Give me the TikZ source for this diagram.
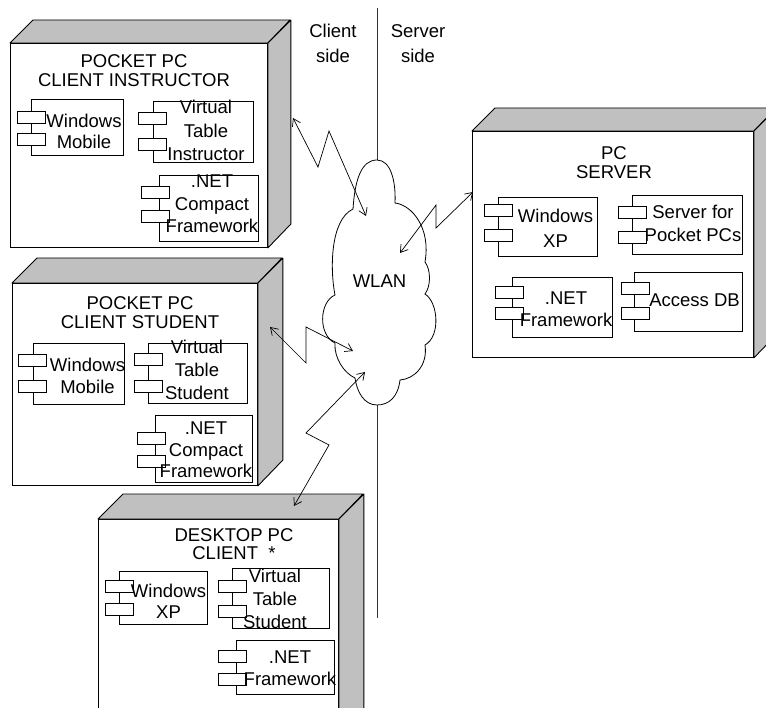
\documentclass[tikz,border=0pt]{standalone}
\usepackage{fontspec}
\setmainfont{Liberation Sans}
\usetikzlibrary{arrows.meta}
\definecolor{boxgray}{RGB}{192,192,192}
\newcommand\ml[2]{\fontsize{18.5}{#1}\selectfont\begin{tabular}[t]{@{}c@{}}#2\end{tabular}}
\tikzset{
  front/.style={draw=black, line width=0.9pt, fill=white, rectangle, inner sep=0pt, anchor=north west},
  face/.style={draw=black, line width=0.9pt, fill=boxgray, line join=round},
  comp/.style={draw=black, line width=0.7pt, fill=white, rectangle, inner sep=0pt, anchor=north west},
  tab/.style={draw=black, line width=0.7pt, fill=white, rectangle, inner sep=0pt, minimum width=28pt, minimum height=12pt, anchor=north},
  lbl/.style={anchor=base, inner sep=0pt},
  link/.style={line width=0.7pt, {Straight Barb[length=7pt,width=9pt]}-{Straight Barb[length=7pt,width=9pt]}, line join=miter},
  sideline/.style={line width=0.7pt, draw=black!80},
  cloudline/.style={line width=0.8pt, draw=black, fill=white},
}
% name, x1, y1, x2, y2, depth
\newcommand\deviceBox[6]{%
  \node[front, minimum width={#4-#2}, minimum height={#5-#3}] (#1) at (#2,#3) {};
  \draw[face] (#1.north west) -- ++(#6,-#6) -- ++({#4-#2},0) -- (#1.north east) -- cycle;
  \draw[face] (#1.north east) -- ++(#6,-#6) -- ++(0,{#5-#3}) -- (#1.south east) -- cycle;
}
% name, x1, y1, x2, y2, tab centre x, tab1 top, tab2 top
\newcommand\component[8]{%
  \node[comp, minimum width={#4-#2}, minimum height={#5-#3}] (#1) at (#2,#3) {};
  \node[tab] (#1-t1) at (#6,#7) {};
  \node[tab] (#1-t2) at (#6,#8) {};
}
\begin{document}
\begin{tikzpicture}[x=1pt,y=-1pt]
\clip (0,0) rectangle (766,708);
\fill[white] (0,0) rectangle (766,708);

% devices
\deviceBox{instr}{10}{43}{267}{247}{23}
\deviceBox{stud}{12}{283}{257}{485}{25}
\deviceBox{desk}{98}{519}{338}{740}{25}
\deviceBox{serv}{472}{131}{753}{357}{23}

% titles
\node[lbl] (instr-title) at (134,68) {\ml{19}{POCKET PC\\CLIENT INSTRUCTOR}};
\node[lbl] (stud-title) at (140,310) {\ml{19}{POCKET PC\\CLIENT STUDENT}};
\node[lbl] (desk-title) at (234,541) {\ml{18}{DESKTOP PC\\CLIENT~~*\hspace{14pt}}};
\node[lbl] (serv-title) at (614,160) {\ml{18}{PC\\SERVER}};

% components: instructor
\component{iwm}{31}{99}{123}{155}{31}{111}{133}
\component{ivt}{153}{101}{253}{162}{152.5}{112}{138}
\component{inet}{159}{175}{258}{241}{155.5}{186}{210}
\node[lbl] (iwm-l) at (84,128) {\ml{21}{Windows\\Mobile}};
\node[lbl] (ivt-l) at (206,114) {\ml{23.5}{Virtual\\Table\\Instructor}};
\node[lbl] (inet-l) at (212,188) {\ml{22.5}{.NET\\Compact\\Framework}};

% components: student
\component{swm}{33}{343}{124}{404}{32.5}{354}{380}
\component{svt}{148}{343}{247}{403}{148.5}{353}{380}
\component{snet}{155}{415}{252}{482}{151}{432}{455}
\node[lbl] (swm-l) at (87.5,372) {\ml{22}{Windows\\Mobile}};
\node[lbl] (svt-l) at (197,354) {\ml{23}{Virtual\\Table\\Student}};
\node[lbl] (snet-l) at (206,435) {\ml{21.5}{.NET\\Compact\\Framework}};

% components: desktop
\component{dxp}{119}{571}{207}{624}{119}{580}{603}
\component{dvt}{232}{568}{329}{628}{232}{580}{605}
\component{dnet}{236}{640}{334}{694}{232.5}{650}{673}
\node[lbl] (dxp-l) at (168.5,597) {\ml{21}{Windows\\XP}};
\node[lbl] (dvt-l) at (275,582) {\ml{23}{Virtual\\Table\\Student}};
\node[lbl] (dnet-l) at (290,663) {\ml{22}{.NET\\Framework}};

% components: server
\component{vxp}{498}{197}{597}{256}{498.5}{204}{229}
\component{vsrv}{632}{195}{742}{254}{632}{206}{231}
\component{vnet}{512}{277}{612}{337}{509}{286}{307}
\component{vdb}{634}{272}{742}{331}{635}{282}{307}
\node[lbl] (vxp-l) at (555.5,223) {\ml{25}{Windows\\XP}};
\node[lbl] (vsrv-l) at (693,219) {\ml{23}{Server for\\Pocket PCs}};
\node[lbl] (vnet-l) at (566,305) {\ml{22}{.NET\\Framework}};
\node[lbl] (vdb-l) at (694.5,307) {\ml{22}{Access DB}};

% client / server side
\node[lbl] (client) at (333,38) {\ml{25}{Client\\side}};
\node[lbl] (server) at (418,38) {\ml{25}{Server\\side}};
\coordinate (vtop) at (377,8);
\coordinate (cloudtop) at (377,160);
\coordinate (cloudbot) at (377,405);
\coordinate (vbot) at (377,618);
\draw[sideline] (vtop) -- (cloudtop);
\draw[sideline] (cloudbot) -- (vbot);

% cloud
\draw[cloudline] (353,209) .. controls (355,178) and (362,160) .. (377,160)
  .. controls (391,160) and (396,182) .. (395,203)
  .. controls (412,205) and (431,228) .. (425,262)
  .. controls (431,270) and (431,286) .. (425,294)
  .. controls (438,302) and (441,336) .. (425,345)
  .. controls (428,366) and (414,379) .. (400,380)
  .. controls (398,397) and (389,405) .. (377,405)
  .. controls (364,405) and (357,392) .. (355,378)
  .. controls (344,373) and (334,358) .. (335,343)
  .. controls (318,335) and (319,302) .. (335,295)
  .. controls (330,270) and (330,220) .. (353,209) -- cycle;
\node[lbl] (wlan) at (379.5,288) {\fontsize{18.5}{22}\selectfont WLAN};

% wireless links
\coordinate (k1a) at (293,118); \coordinate (k1b) at (318,167);
\coordinate (k1c) at (329,131); \coordinate (k1d) at (366,216);
\coordinate (k2a) at (473,192); \coordinate (k2b) at (436,228);
\coordinate (k2c) at (436,205); \coordinate (k2d) at (400,253);
\coordinate (k3a) at (270,327); \coordinate (k3b) at (306,363);
\coordinate (k3c) at (306,327); \coordinate (k3d) at (353,351);
\coordinate (k4a) at (365,372); \coordinate (k4b) at (306,433);
\coordinate (k4c) at (329,445); \coordinate (k4d) at (294,506);
\draw[link] (k1a) -- (k1b) -- (k1c) -- (k1d);
\draw[link] (k2a) -- (k2b) -- (k2c) -- (k2d);
\draw[link] (k3a) -- (k3b) -- (k3c) -- (k3d);
\draw[link] (k4a) -- (k4b) -- (k4c) -- (k4d);
\end{tikzpicture}
\end{document}
